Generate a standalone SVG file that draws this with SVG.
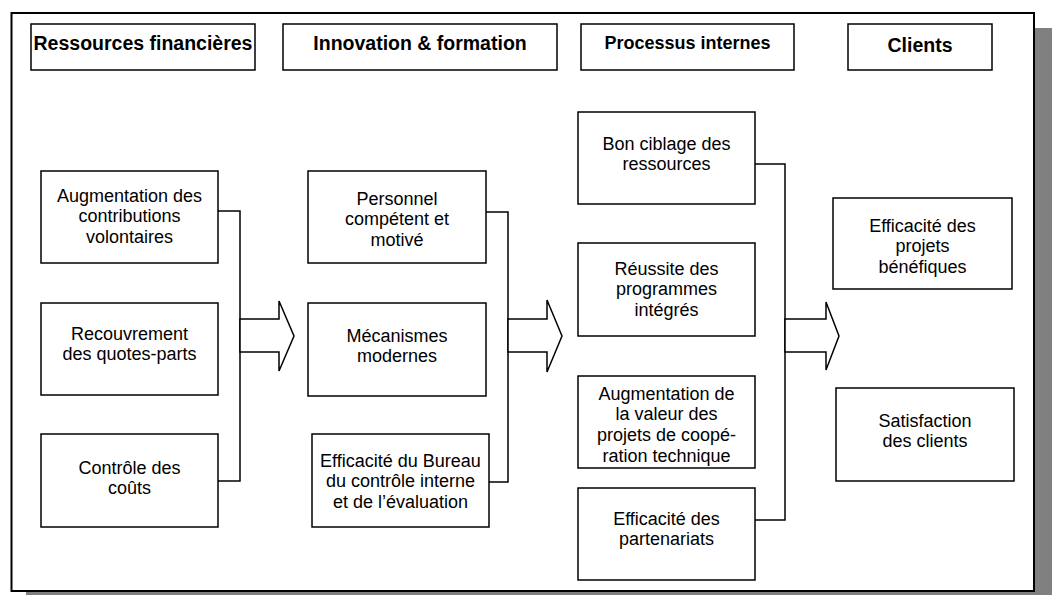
<svg xmlns="http://www.w3.org/2000/svg" width="1052" height="595" viewBox="0 0 1052 595">
  <style>
    .box { fill: #ffffff; stroke: #000000; stroke-width: 1.5; }
    .frame { fill: #ffffff; stroke: #000000; stroke-width: 2; }
    .shadow { fill: #808080; }
    .head { font-family: "Liberation Sans", Arial, sans-serif; font-weight: bold; font-size: 19.5px; fill: #000000; text-anchor: middle; }
    .lbl { font-family: "Liberation Sans", Arial, sans-serif; font-size: 18px; fill: #000000; text-anchor: middle; }
    .wire { fill: none; stroke: #000000; stroke-width: 1.5; }
    .arrow { fill: #ffffff; stroke: #000000; stroke-width: 1.5; stroke-linejoin: miter; }
  </style>

  <!-- page frame with drop shadow -->
  <rect class="shadow" x="26" y="28" width="1040" height="590"/>
  <rect class="frame" x="11.5" y="13" width="1022.5" height="578"/>

  <!-- column headers -->
  <g id="head-ressources">
    <rect class="box" x="31" y="24" width="224" height="46"/>
    <text class="head" x="143" y="50">Ressources financières</text>
  </g>
  <g id="head-innovation">
    <rect class="box" x="283" y="24" width="274" height="46"/>
    <text class="head" x="420" y="50">Innovation &amp; formation</text>
  </g>
  <g id="head-processus">
    <rect class="box" x="581" y="24" width="213" height="46"/>
    <text class="head" x="687.5" y="49" style="font-size:18px">Processus internes</text>
  </g>
  <g id="head-clients">
    <rect class="box" x="848" y="24" width="144" height="46"/>
    <text class="head" x="920" y="52">Clients</text>
  </g>

  <!-- connectors: brackets and block arrows -->
  <g id="connectors">
    <polyline class="wire" points="218,211 240,211 240,481 218,481"/>
    <polygon class="arrow" points="240,319 279,319 279,301 294,336 279,371 279,352 240,352"/>

    <polyline class="wire" points="486,212 508,212 508,482 489,482"/>
    <polygon class="arrow" points="508,319 547,319 547,300 562,336 547,372 547,352 508,352"/>

    <polyline class="wire" points="755,164 785,164 785,520 755,520"/>
    <polygon class="arrow" points="785,319 826,319 826,302 839,336 826,370 826,352 785,352"/>
  </g>

  <!-- Ressources financières -->
  <g id="n-contributions">
    <rect class="box" x="41" y="171" width="177" height="92"/>
    <text class="lbl"><tspan x="129.5" y="201.5">Augmentation des</tspan><tspan x="129.5" y="222.2">contributions</tspan><tspan x="129.5" y="242.9">volontaires</tspan></text>
  </g>
  <g id="n-quotes-parts">
    <rect class="box" x="41" y="303" width="177" height="92"/>
    <text class="lbl"><tspan x="129.5" y="339.5">Recouvrement</tspan><tspan x="129.5" y="360.2">des quotes-parts</tspan></text>
  </g>
  <g id="n-couts">
    <rect class="box" x="41" y="434" width="177" height="93"/>
    <text class="lbl"><tspan x="129.5" y="473.5">Contrôle des</tspan><tspan x="129.5" y="494.2">coûts</tspan></text>
  </g>

  <!-- Innovation & formation -->
  <g id="n-personnel">
    <rect class="box" x="308" y="171" width="178" height="92"/>
    <text class="lbl"><tspan x="397" y="204.5">Personnel</tspan><tspan x="397" y="225.2">compétent et</tspan><tspan x="397" y="245.9">motivé</tspan></text>
  </g>
  <g id="n-mecanismes">
    <rect class="box" x="308" y="303" width="178" height="93"/>
    <text class="lbl"><tspan x="397" y="341.5">Mécanismes</tspan><tspan x="397" y="362.2">modernes</tspan></text>
  </g>
  <g id="n-bureau">
    <rect class="box" x="312" y="434" width="177" height="93"/>
    <text class="lbl"><tspan x="400.5" y="466.5">Efficacité du Bureau</tspan><tspan x="400.5" y="487.2">du contrôle interne</tspan><tspan x="400.5" y="507.9">et de l’évaluation</tspan></text>
  </g>

  <!-- Processus internes -->
  <g id="n-ciblage">
    <rect class="box" x="578" y="112" width="177" height="92"/>
    <text class="lbl"><tspan x="666.5" y="149.5">Bon ciblage des</tspan><tspan x="666.5" y="170.2">ressources</tspan></text>
  </g>
  <g id="n-programmes">
    <rect class="box" x="578" y="243" width="177" height="93"/>
    <text class="lbl"><tspan x="666.5" y="274.5">Réussite des</tspan><tspan x="666.5" y="295.2">programmes</tspan><tspan x="666.5" y="315.9">intégrés</tspan></text>
  </g>
  <g id="n-cooperation">
    <rect class="box" x="578" y="376" width="177" height="92"/>
    <text class="lbl"><tspan x="666.5" y="399.5">Augmentation de</tspan><tspan x="666.5" y="420.2">la valeur des</tspan><tspan x="666.5" y="440.9">projets de coopé-</tspan><tspan x="666.5" y="461.6">ration technique</tspan></text>
  </g>
  <g id="n-partenariats">
    <rect class="box" x="578" y="488" width="177" height="92"/>
    <text class="lbl"><tspan x="666.5" y="524.5">Efficacité des</tspan><tspan x="666.5" y="545.2">partenariats</tspan></text>
  </g>

  <!-- Clients -->
  <g id="n-projets">
    <rect class="box" x="833" y="198" width="179" height="91"/>
    <text class="lbl"><tspan x="922.5" y="231.5">Efficacité des</tspan><tspan x="922.5" y="252.2">projets</tspan><tspan x="922.5" y="272.9">bénéfiques</tspan></text>
  </g>
  <g id="n-satisfaction">
    <rect class="box" x="836" y="388" width="178" height="93"/>
    <text class="lbl"><tspan x="925" y="426.5">Satisfaction</tspan><tspan x="925" y="447.2">des clients</tspan></text>
  </g>
</svg>
